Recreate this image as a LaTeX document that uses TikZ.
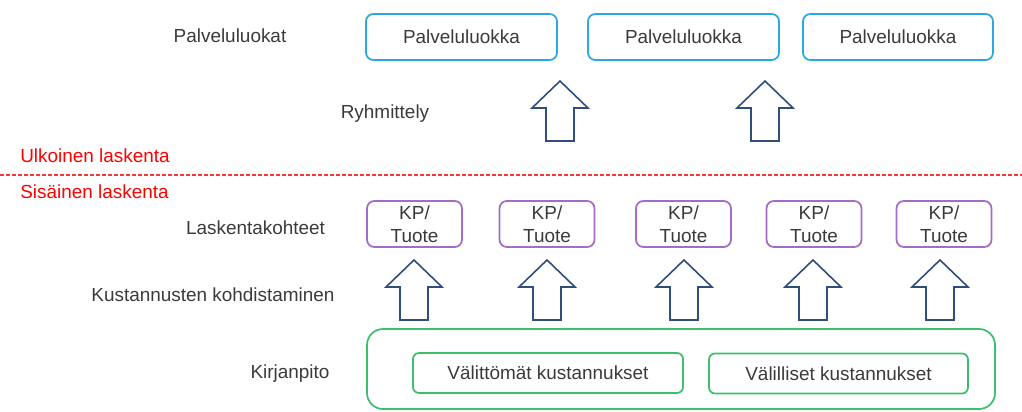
\documentclass[tikz,border=0pt]{standalone}
\usepackage{fontspec}
\setmainfont{Liberation Sans}
\usetikzlibrary{positioning}
\definecolor{classblue}{HTML}{2AA9DF}
\definecolor{targetpurple}{HTML}{A56BC6}
\definecolor{ledgergreen}{HTML}{3DBE6C}
\definecolor{arrownavy}{HTML}{2F4E7C}
\definecolor{labelgray}{HTML}{3A3A3A}
\definecolor{borderred}{HTML}{F23A3A}
\tikzset{
  txt/.style={text=labelgray,font=\fontsize{14.2}{17}\selectfont},
  redtxt/.style={text=red,font=\fontsize{14.2}{17}\selectfont},
  classbox/.style={txt,draw=classblue,line width=1.3pt,rounded corners=5.5pt,minimum width=191*0.75pt,minimum height=46*0.75pt},
  kpbox/.style={txt,draw=targetpurple,line width=1.3pt,rounded corners=5.5pt,minimum width=95*0.75pt,minimum height=46*0.75pt,align=center,inner sep=0pt},
  costbox/.style={txt,draw=ledgergreen,line width=1.3pt,rounded corners=4.5pt,minimum height=40*0.75pt},
  blockarrow/.pic={\draw[arrownavy,line width=1.2pt,line join=miter]
    (0,0) -- (28,27) -- (14,27) -- (14,60) -- (-14,60) -- (-14,27) -- (-28,27) -- cycle;}
}
\begin{document}
\begin{tikzpicture}[x=0.75pt,y=-0.75pt]
\useasboundingbox (0,0) rectangle (1022,411);
% service classes
\node[classbox] (pl1) at (461.5,37) {Palveluluokka};
\node[classbox] (pl2) at (683.5,37) {Palveluluokka};
\node[classbox,minimum width=190*0.75pt] (pl3) at (898,37) {Palveluluokka};
% grouping arrows
\pic at (560,81) {blockarrow};
\pic at (765,81) {blockarrow};
% border between external and internal
\coordinate (bl) at (0,175);
\coordinate (br) at (1022,175);
\draw[color=borderred,line width=0.9pt,dash pattern=on 3pt off 1.5pt] (bl) -- (br);
\node[redtxt,anchor=west,inner sep=0pt] (ulk) at (20,156) {Ulkoinen laskenta};
\node[redtxt,anchor=west,inner sep=0pt] (sis) at (20,192) {Sisäinen laskenta};
% cost objects
\node[kpbox] (kp1) at (414.5,224) {KP/\\Tuote};
\node[kpbox] (kp2) at (547,224) {KP/\\Tuote};
\node[kpbox] (kp3) at (683.5,224) {KP/\\Tuote};
\node[kpbox] (kp4) at (814,224) {KP/\\Tuote};
\node[kpbox] (kp5) at (944,224) {KP/\\Tuote};
% allocation arrows
\pic at (414,260) {blockarrow};
\pic at (547,260) {blockarrow};
\pic at (684,260) {blockarrow};
\pic at (813,260) {blockarrow};
\pic at (940,260) {blockarrow};
% bookkeeping
\draw[ledgergreen,line width=1.3pt,rounded corners=12pt] (367,329) rectangle (995,409);
\node[costbox,minimum width=270*0.75pt] (vk) at (548,373) {Välittömät kustannukset};
\node[costbox,minimum width=259*0.75pt] (ek) at (838.5,373.5) {Välilliset kustannukset};
% row labels
\node[txt] (pll) at (230,36) {Palveluluokat};
\node[txt] (ryh) at (385,114) {Ryhmittely};
\node[txt] (lkk) at (255.5,228) {Laskentakohteet};
\node[txt] (kko) at (213,295) {Kustannusten kohdistaminen};
\node[txt] (kir) at (290,374) {Kirjanpito};
\end{tikzpicture}
\end{document}
